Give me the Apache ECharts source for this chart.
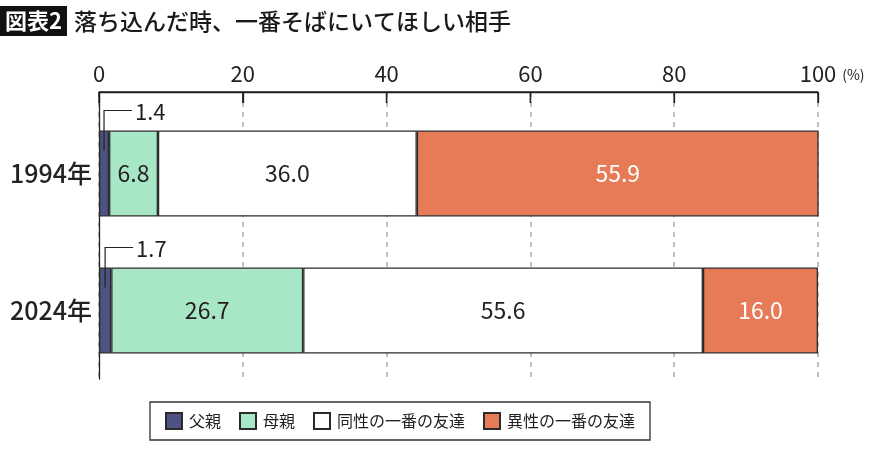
<!DOCTYPE html>
<html>
<head>
<meta charset="utf-8">
<script src="https://cdn.jsdelivr.net/npm/echarts@6/dist/echarts.min.js"></script>
<style>
html,body{margin:0;padding:0;background:#fff;}
#c{width:870px;height:450px;}
</style>
</head>
<body>
<div id="c"></div>
<script>
const categories = ['1994年', '2024年'];
const seriesNames = ['父親', '母親', '同性の一番の友達', '異性の一番の友達'];
const father = [1.4, 1.7];
const mother = [6.8, 26.7];
const sameSex = [36.0, 55.6];
const oppositeSex = [55.9, 16.0];
const xTicks = [0, 20, 40, 60, 80, 100];
const colors = ['#4e5282', '#a8e7c6', '#ffffff', '#e77b58'];
const labelColors = ['#231f20', '#231f20', '#231f20', '#ffffff'];

const FONT = '"Noto Sans CJK JP", "Noto Sans", sans-serif';
const BAR_W = 86;

const chart = echarts.init(document.getElementById('c'), null, {renderer: 'canvas'});

function barSeries(idx, data, showLabel) {
  return {
    name: seriesNames[idx],
    type: 'bar',
    stack: 'total',
    xAxisIndex: 0,
    yAxisIndex: 0,
    barWidth: BAR_W,
    data: data,
    itemStyle: {color: colors[idx], borderColor: '#2b2b2b', borderWidth: 1.3},
    label: {
      show: showLabel,
      position: 'inside',
      fontFamily: FONT,
      fontSize: 23,
      color: labelColors[idx],
      formatter: p => p.value.toFixed(1)
    },
    emphasis: {disabled: true},
    z: 3
  };
}

const option = {
  animation: false,
  backgroundColor: '#ffffff',
  title: {
    left: 0,
    top: 5,
    padding: 0,
    text: '{b|図表2}{s|}{t|落ち込んだ時、一番そばにいてほしい相手}',
    textStyle: {
      fontFamily: FONT,
      fontWeight: 'normal',
      rich: {
        b: {backgroundColor: '#111', color: '#fff', fontSize: 22, fontWeight: 'bold', fontFamily: FONT, lineHeight: 24, padding: [4, 5, 4, 5]},
        s: {width: 7},
        t: {fontSize: 23, color: '#1a1a1a', fontFamily: FONT, fontWeight: 500, lineHeight: 32}
      }
    }
  },
  legend: {
    data: seriesNames,
    left: 150,
    top: 402,
    icon: 'rect',
    itemWidth: 16,
    itemHeight: 16,
    itemGap: 18,
    padding: [10, 15, 10, 15],
    borderColor: '#333',
    borderWidth: 1.3,
    selectedMode: false,
    textStyle: {fontFamily: FONT, fontSize: 16, color: '#222', padding: [0, 0, 0, 2]}
  },
  grid: [
    {left: 99, right: 52, top: 105, height: 274},
    {left: 99, right: 52, top: 92, height: 287}
  ],
  xAxis: [
    {gridIndex: 0, type: 'value', min: 0, max: 100, interval: 20, show: false},
    {
      gridIndex: 1, type: 'value', min: 0, max: 100, interval: 20, position: 'top',
      axisLine: {show: true, lineStyle: {color: '#222', width: 1.3}},
      axisTick: {show: true, inside: true, length: 11, lineStyle: {color: '#222', width: 1.3}},
      axisLabel: {fontFamily: FONT, fontSize: 22, color: '#222', margin: 7},
      splitLine: {show: true, lineStyle: {color: '#aaa', type: [5, 5], width: 1.5}},
      name: '(%)',
      nameLocation: 'end',
      nameGap: 17,
      nameTextStyle: {fontFamily: FONT, fontSize: 14, color: '#222', verticalAlign: 'bottom', lineHeight: 14, padding: [0, 0, 10, 0]}
    }
  ],
  yAxis: [
    {
      gridIndex: 0, type: 'category', data: categories, inverse: true,
      axisLine: {show: false}, axisTick: {show: false},
      axisLabel: {fontFamily: FONT, fontSize: 25, fontWeight: 500, color: '#222', margin: 7}
    },
    {
      gridIndex: 1, type: 'category', data: [''],
      axisLine: {show: true, lineStyle: {color: '#222', width: 1.3}},
      axisTick: {show: false}, axisLabel: {show: false}, splitLine: {show: false}
    }
  ],
  series: [
    barSeries(0, father, false),
    barSeries(1, mother, true),
    barSeries(2, sameSex, true),
    barSeries(3, oppositeSex, true),
    {
      type: 'custom',
      xAxisIndex: 0,
      yAxisIndex: 0,
      silent: true,
      z: 10,
      data: father.map((v, i) => [v / 2, i, v]),
      renderItem: function (params, api) {
        const p = api.coord([api.value(0), api.value(1)]);
        const half = BAR_W / 2;
        const x = p[0];
        const yTop = p[1] - half - 20;
        const yBot = p[1] - half + 20;
        return {
          type: 'group',
          children: [
            {
              type: 'polyline',
              shape: {points: [[x, yBot], [x, yTop], [x + 28, yTop]]},
              style: {stroke: '#222', lineWidth: 1.2, fill: null}
            },
            {
              type: 'text',
              style: {
                x: x + 31, y: yTop + 1,
                text: api.value(2).toFixed(1),
                fontFamily: FONT, fontSize: 22, fill: '#231f20',
                verticalAlign: 'middle', align: 'left'
              }
            }
          ]
        };
      }
    }
  ]
};

chart.setOption(option);

// Top axis line and ticks placed through grid 1's own scale, drawn on top of everything.
try {
  let top = null;
  try {
    top = chart.getModel().getComponent('grid', 1).coordinateSystem.getRect().y;
  } catch (e) { top = null; }
  if (top == null) {
    top = option.grid[1].top;
  }
  const xs = xTicks.map(v => chart.convertToPixel({xAxisIndex: 1}, v));
  const elements = [{
    type: 'line', z: 100, silent: true,
    shape: {x1: xs[0], y1: top, x2: xs[xs.length - 1], y2: top},
    style: {stroke: '#222', lineWidth: 1.4}
  }];
  xs.forEach(x => elements.push({
    type: 'line', z: 100, silent: true,
    shape: {x1: x, y1: top, x2: x, y2: top + 11},
    style: {stroke: '#222', lineWidth: 1.4}
  }));
  chart.setOption({graphic: {elements: elements}});
} catch (e) {}
</script>
</body>
</html>
